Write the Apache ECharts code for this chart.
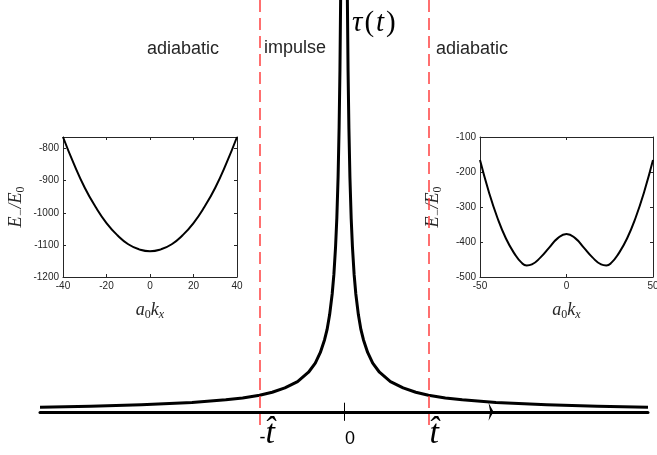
<!DOCTYPE html>
<html>
<head>
<meta charset="utf-8">
<script src="https://cdn.jsdelivr.net/npm/echarts@6/dist/echarts.min.js"></script>
<style>
  html, body { margin: 0; padding: 0; background: #fff; }
  #chart { width: 657px; height: 455px; }
</style>
</head>
<body>
<div id="chart"></div>
<script>
// relaxation time tau(t) on the positive-t side (units of t-hat); the t<0 branch mirrors it
const tauTimes  = [0.034, 0.04, 0.048, 0.058, 0.07, 0.085, 0.1, 0.12, 0.14, 0.17, 0.2, 0.23, 0.28, 0.34, 0.42, 0.55, 0.7, 0.85, 1.0, 1.2, 1.4, 1.8, 2.4, 3.0, 3.6];
const tauValues = [11.8, 10.0, 8.3, 6.9, 5.7, 4.7, 4.0, 3.33, 2.86, 2.36, 2.0, 1.75, 1.44, 1.18, 0.96, 0.73, 0.58, 0.475, 0.40, 0.335, 0.29, 0.225, 0.17, 0.135, 0.11];
const mainTickValues = [-1, 0, 1];
const mainTickLabels = ['-t\u0302', '0', 't\u0302'];
const freezeOutTimes = [-1, 1];

// dispersion before the transition: single minimum
const leftK = [-40, -35, -30, -25, -20, -15, -10, -5, 0, 5, 10, 15, 20, 25, 30, 35, 40];
const leftE = [-764, -848, -922, -982, -1032, -1070, -1098, -1114, -1120, -1114, -1098, -1070, -1032, -982, -922, -848, -764];
const leftYTicks = [-1200, -1100, -1000, -900, -800];

// dispersion after the transition: double minimum
const rightK = [-50, -45, -40, -35, -30, -26, -23, -20, -15, -10, -5, 0, 5, 10, 15, 20, 23, 26, 30, 35, 40, 45, 50];
const rightE = [-166, -255, -330, -390, -434, -459, -467, -464, -444, -416, -389, -377, -389, -416, -444, -464, -467, -459, -434, -390, -330, -255, -166];
const rightYTicks = [-500, -400, -300, -200, -100];

const regionLabels = ['adiabatic', 'impulse', 'adiabatic'];

const ink = '#262626';
const sans = 'Liberation Sans';
const serif = 'Liberation Serif';

const rightBranch = tauTimes.map((t, i) => [t, tauValues[i]]);
const leftBranch = tauTimes.map((t, i) => [-t, tauValues[i]]);

const mathRich = {
  i: { fontFamily: serif, fontStyle: 'italic', fontSize: 18, color: ink, lineHeight: 22 },
  s: { fontFamily: serif, fontStyle: 'italic', fontSize: 12, color: ink, lineHeight: 22, padding: [9, 0, 0, 0] },
  r: { fontFamily: serif, fontSize: 12, color: ink, lineHeight: 22, padding: [9, 0, 0, 0] }
};
const eName = '{i|E}{s|−}{i|/E}{r|0}';
const kName = '{i|a}{r|0}{i|k}{s|x}';

const plainNumber = v => String(v);

function insetX(grid, min, max, interval, top) {
  return {
    gridIndex: grid, type: 'value', min: min, max: max, interval: interval,
    position: top ? 'top' : 'bottom',
    axisLine: { show: true, onZero: false, lineStyle: { color: ink, width: 1 } },
    axisTick: { show: true, inside: true, length: 3, lineStyle: { color: ink, width: 1 } },
    axisLabel: { show: !top, margin: 4, color: ink, fontFamily: sans, fontSize: 10, formatter: plainNumber, hideOverlap: false },
    splitLine: { show: false },
    name: top ? '' : kName, nameLocation: 'middle', nameGap: 22,
    nameTextStyle: { rich: mathRich }
  };
}
function insetY(grid, min, max, ticks, right) {
  return {
    gridIndex: grid, type: 'value', min: min, max: max,
    position: right ? 'right' : 'left',
    axisLine: { show: true, onZero: false, lineStyle: { color: ink, width: 1 } },
    axisTick: { show: true, inside: true, length: 3, customValues: ticks, lineStyle: { color: ink, width: 1 } },
    axisLabel: { show: !right, margin: 4, color: ink, fontFamily: sans, fontSize: 10, customValues: ticks, formatter: plainNumber },
    splitLine: { show: false },
    name: right ? '' : eName, nameLocation: 'middle', nameGap: 36,
    nameTextStyle: { rich: mathRich }
  };
}

const chart = echarts.init(document.getElementById('chart'), null, { renderer: 'canvas' });

const option = {
  animation: false,
  backgroundColor: '#ffffff',
  grid: [
    { left: 40, right: 9, top: 0, bottom: 0, containLabel: false, outerBoundsMode: 'none' },
    { left: 63, width: 174, top: 137, height: 140, containLabel: false, outerBoundsMode: 'none' },
    { left: 480, width: 173, top: 137, height: 140, containLabel: false, outerBoundsMode: 'none' }
  ],
  xAxis: [
    {
      gridIndex: 0, type: 'value', min: -3.6, max: 3.6,
      axisLine: { show: true, onZero: true, lineStyle: { color: '#000', width: 3 } },
      axisTick: { show: false },
      axisLabel: { show: false },
      splitLine: { show: false }
    },
    insetX(1, -40, 40, 20, false),
    insetX(1, -40, 40, 20, true),
    insetX(2, -50, 50, 50, false),
    insetX(2, -50, 50, 50, true)
  ],
  yAxis: [
    { gridIndex: 0, type: 'value', min: -1.05, max: 10, show: false, splitLine: { show: false } },
    insetY(1, -1200, -764, leftYTicks, false),
    insetY(1, -1200, -764, leftYTicks, true),
    insetY(2, -500, -100, rightYTicks, false),
    insetY(2, -500, -100, rightYTicks, true)
  ],
  series: [
    {
      type: 'line', xAxisIndex: 0, yAxisIndex: 0, data: leftBranch,
      smooth: false, showSymbol: false, symbol: 'none',
      lineStyle: { color: '#000', width: 3, join: 'round' }
    },
    {
      type: 'line', xAxisIndex: 0, yAxisIndex: 0, data: rightBranch,
      smooth: false, showSymbol: false, symbol: 'none',
      lineStyle: { color: '#000', width: 3, join: 'round' },
      markLine: {
        silent: true, symbol: ['none', 'none'], label: { show: false },
        data: freezeOutTimes.map(t => [
          { coord: [t, 10], lineStyle: { color: '#ff4040', width: 1.5, type: [12, 6] } },
          { coord: [t, -0.32] }
        ]).concat([[
          { coord: [0, 0.22], lineStyle: { color: '#000', width: 1, type: 'solid' } },
          { coord: [0, -0.22] }
        ]])
      },
      markPoint: {
        silent: true,
        label: { show: false },
        data: [{
          coord: [1.741, 0],
          symbol: 'path://M0,0 L6,9 L0,18 L2,9 Z',
          symbolSize: [5, 18],
          itemStyle: { color: '#000' }
        }]
      }
    },
    {
      type: 'line', xAxisIndex: 1, yAxisIndex: 1,
      data: leftK.map((k, i) => [k, leftE[i]]),
      smooth: true, showSymbol: false, symbol: 'none',
      lineStyle: { color: '#000', width: 2 }
    },
    {
      type: 'line', xAxisIndex: 3, yAxisIndex: 3,
      data: rightK.map((k, i) => [k, rightE[i]]),
      smooth: true, showSymbol: false, symbol: 'none',
      lineStyle: { color: '#000', width: 2 }
    }
  ],
  graphic: [
    { type: 'text', left: 147, top: 40, style: { text: regionLabels[0], fontFamily: sans, fontSize: 18, fill: ink } },
    { type: 'text', left: 264, top: 39, style: { text: regionLabels[1], fontFamily: sans, fontSize: 18, fill: ink } },
    { type: 'text', left: 436, top: 40, style: { text: regionLabels[2], fontFamily: sans, fontSize: 18, fill: ink } },
    {
      type: 'text', left: 352, top: 9,
      style: {
        text: '{i|τ}{r|(}{i|t}{r|)}',
        rich: {
          i: { fontFamily: serif, fontStyle: 'italic', fontSize: 29, fill: '#000', padding: [0, 1, 0, 1] },
          r: { fontFamily: serif, fontSize: 29, fill: '#000', padding: [0, 1, 0, 1] }
        }
      }
    }
  ]
};

chart.setOption(option);

// time-axis labels, placed through the main grid's scales
const tickLabelElements = [];
mainTickValues.forEach((v, i) => {
  const px = chart.convertToPixel({ gridIndex: 0 }, [v, 0]);
  const label = mainTickLabels[i];
  if (label === '0') {
    tickLabelElements.push({
      type: 'text', x: px[0] + 1, y: px[1] + 27,
      style: { text: label, fontFamily: sans, fontSize: 18, fill: '#000', align: 'left', verticalAlign: 'middle' }
    });
  } else {
    let x = px[0];
    if (label.charAt(0) === '-') {
      tickLabelElements.push({
        type: 'text', x: x, y: px[1] + 26,
        style: { text: '-', fontFamily: sans, fontSize: 18, fill: '#000', align: 'left', verticalAlign: 'middle' }
      });
      x += 5;
    }
    tickLabelElements.push({
      type: 'text', x: x + 1, y: px[1] + 22,
      style: { text: 't\u0302', fontFamily: serif, fontStyle: 'italic', fontSize: 34, fill: '#000', align: 'left', verticalAlign: 'middle' }
    });
  }
});
chart.setOption({ graphic: option.graphic.concat(tickLabelElements) });
</script>
</body>
</html>
